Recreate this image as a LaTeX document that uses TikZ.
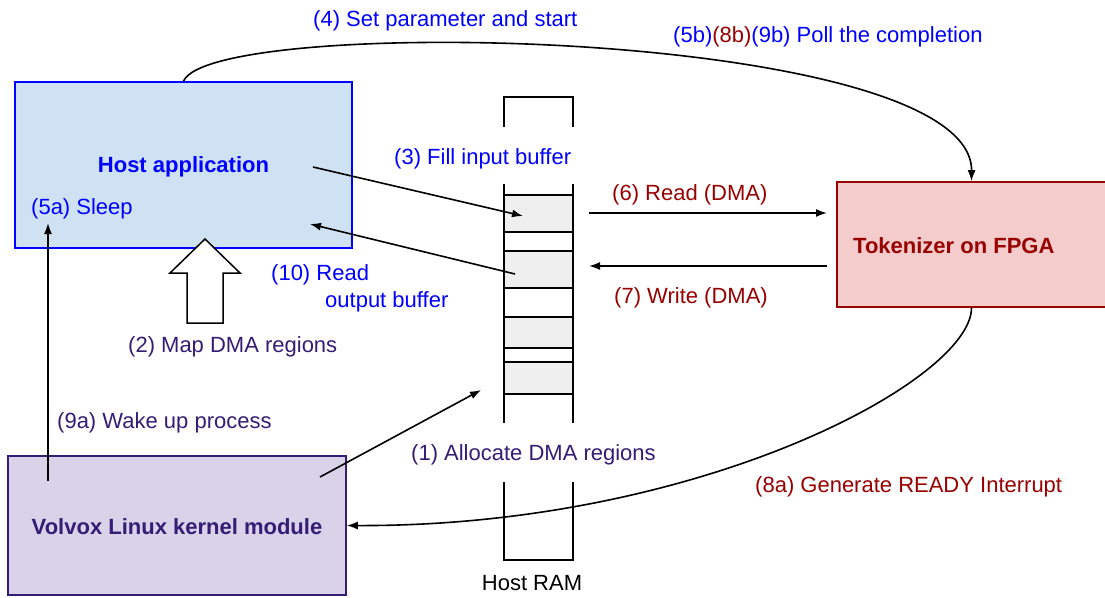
\documentclass[tikz,border=0pt]{standalone}
\usepackage{fontspec}
\setmainfont{Liberation Sans}
\usetikzlibrary{arrows.meta}
\definecolor{appblue}{RGB}{0,0,255}
\definecolor{appfill}{RGB}{207,226,243}
\definecolor{fpgared}{RGB}{153,0,0}
\definecolor{fpgafill}{RGB}{244,204,204}
\definecolor{kernpurple}{RGB}{53,28,117}
\definecolor{kernfill}{RGB}{217,210,233}
\definecolor{bufgray}{RGB}{239,239,239}
\begin{document}
\begin{tikzpicture}[x=1pt, y=-1pt,
  font=\fontsize{22}{27}\selectfont,
  block/.style={draw, line width=1.6pt, inner sep=0pt},
  title/.style={inner sep=0pt, font=\fontsize{22}{27}\selectfont\bfseries},
  lbl/.style={inner sep=0pt, anchor=west, text height=17pt, text depth=3pt},
  link/.style={line width=1.6pt, -{Latex[length=11pt,width=8pt]}},
  wall/.style={line width=1.6pt},
  buffer/.style={draw, fill=bufgray, line width=1.6pt, minimum width=69pt, inner sep=0pt}]
\useasboundingbox (0,0) rectangle (1105,597);

% main blocks
\node[block, draw=appblue, fill=appfill, minimum width=337pt, minimum height=166pt] (host) at (183.5,165) {};
\node[title, text=appblue] (hosttitle) at (183.5,167) {Host application};
\node[lbl, text=appblue] (sleep) at (31,207) {(5a) Sleep};

\node[block, draw=fpgared, fill=fpgafill, minimum width=269pt, minimum height=125pt] (fpga) at (971.5,244.5) {};
\node[title, text=fpgared, anchor=west] (fpgatitle) at (853,246) {Tokenizer on FPGA};

\node[block, draw=kernpurple, fill=kernfill, minimum width=338pt, minimum height=139pt] (kernel) at (177,525.5) {};
\node[title, text=kernpurple] (kerntitle) at (177,527) {Volvox Linux kernel module};

% host RAM column with its DMA buffers
\draw[wall] (504,127) |- (573,97) -- (573,127);
\draw[wall] (504,184) -- (504,423);
\draw[wall] (573,184) -- (573,423);
\draw[wall] (504,482) |- (573,560) -- (573,482);
\node[buffer, minimum height=37pt] (r1) at (538.5,213.5) {};
\node[buffer, minimum height=37pt] (r2) at (538.5,269.5) {};
\node[buffer, minimum height=31pt] (r3) at (538.5,332.5) {};
\node[buffer, minimum height=32pt] (r4) at (538.5,378) {};
\node[lbl, anchor=center] (ramlabel) at (532,583) {Host RAM};

% connector end points
\coordinate (fillsrc) at (313,167);
\coordinate (filldst) at (523,216);
\coordinate (readsrc) at (515,274);
\coordinate (readdst) at (310,224);
\coordinate (dmardA) at (589,213);
\coordinate (dmardB) at (827,213);
\coordinate (dmawrA) at (827,266);
\coordinate (dmawrB) at (589,266);
\coordinate (wakesrc) at (48,481);
\coordinate (wakedst) at (48,223);
\coordinate (allocsrc) at (320,477);
\coordinate (allocdst) at (481,390);

% connectors
\draw[link] (host.north) .. controls (212,14) and (973,28) .. (fpga.north);
\draw[link] (fpga.south) .. controls (971.5,380) and (700,527) .. (kernel.east);
\draw[link] (fillsrc) -- (filldst);
\draw[link] (readsrc) -- (readdst);
\draw[link] (dmardA) -- (dmardB);
\draw[link] (dmawrA) -- (dmawrB);
\draw[link] (wakesrc) -- (wakedst);
\draw[link] (allocsrc) -- (allocdst);

% block arrow: mapping DMA regions into the application
\draw[line width=1.5pt, fill=white, line join=miter]
  (205,239) -- (240,273) -- (223,273) -- (223,323) -- (187,323) -- (187,273) -- (170,273) -- cycle;

% labels
\node[lbl, text=appblue] (l4) at (313,19) {(4) Set parameter and start};
\node[lbl, text=appblue] (l5b) at (673,35) {(5b)\textcolor{fpgared}{(8b)}(9b) Poll the completion};
\node[lbl, text=appblue] (l3) at (394,157) {(3) Fill input buffer};
\node[lbl, text=fpgared] (l6) at (612,193) {(6) Read (DMA)};
\node[lbl, text=fpgared] (l7) at (614,296) {(7) Write (DMA)};
\node[lbl, text=appblue] (l10a) at (271,273) {(10) Read};
\node[lbl, text=appblue] (l10b) at (325,300) {output buffer};
\node[lbl, text=kernpurple] (l2) at (128,345) {(2) Map DMA regions};
\node[lbl, text=kernpurple] (l9a) at (57,421) {(9a) Wake up process};
\node[lbl, text=kernpurple] (l1) at (411,453) {(1) Allocate DMA regions};
\node[lbl, text=fpgared] (l8a) at (755,485) {(8a) Generate READY Interrupt};
\end{tikzpicture}
\end{document}
